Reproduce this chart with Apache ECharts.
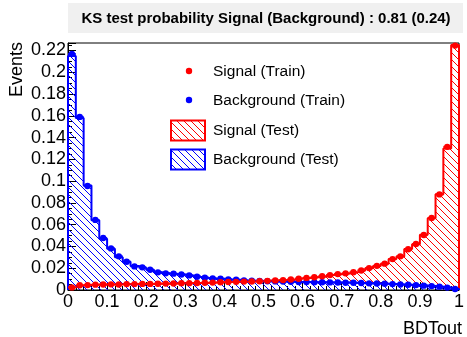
<!DOCTYPE html>
<html>
<head>
<meta charset="utf-8">
<script src="https://cdn.jsdelivr.net/npm/echarts@6/dist/echarts.min.js"></script>
<style>
html,body{margin:0;padding:0;background:#fff;}
#chart{width:467px;height:337px;}
</style>
</head>
<body>
<div id="chart"></div>
<script>
// ---- data (50 bins over BDTout 0..1) ----
const xMin = 0, xMax = 1, nBins = 50;
const yTicks = [0, 0.02, 0.04, 0.06, 0.08, 0.1, 0.12, 0.14, 0.16, 0.18, 0.2, 0.22];
const xTicks = [0, 0.1, 0.2, 0.3, 0.4, 0.5, 0.6, 0.7, 0.8, 0.9, 1];

const sigTest = [
  0.0025, 0.0042, 0.0046, 0.0048, 0.0050, 0.0051, 0.0052, 0.0053, 0.0054, 0.0055,
  0.0056, 0.0057, 0.0058, 0.0060, 0.0061, 0.0063, 0.0064, 0.0065, 0.0068, 0.0072,
  0.0073, 0.0075, 0.0076, 0.0078, 0.0080, 0.0085, 0.0087, 0.0090, 0.0095, 0.0105,
  0.0110, 0.0118, 0.0125, 0.0138, 0.0145, 0.0152, 0.0162, 0.0180, 0.0200, 0.0220,
  0.0240, 0.0285, 0.0307, 0.0377, 0.0420, 0.0507, 0.0660, 0.0880, 0.1300, 0.2250
];
const bgTest = [
  0.2150, 0.1580, 0.0960, 0.0640, 0.0470, 0.0380, 0.0300, 0.0260, 0.0220, 0.0205,
  0.0185, 0.0163, 0.0153, 0.0148, 0.0142, 0.0134, 0.0122, 0.0113, 0.0106, 0.0103,
  0.0097, 0.0094, 0.0088, 0.0085, 0.0083, 0.0081, 0.0079, 0.0077, 0.0075, 0.0074,
  0.0073, 0.0072, 0.0071, 0.0070, 0.0069, 0.0068, 0.0066, 0.0064, 0.0062, 0.0060,
  0.0057, 0.0054, 0.0051, 0.0048, 0.0045, 0.0041, 0.0036, 0.0030, 0.0022, 0.0010
];
const sigTrain = [
  0.0024, 0.0043, 0.0045, 0.0049, 0.0050, 0.0052, 0.0051, 0.0054, 0.0054, 0.0056,
  0.0056, 0.0058, 0.0059, 0.0060, 0.0062, 0.0063, 0.0064, 0.0066, 0.0068, 0.0071,
  0.0074, 0.0075, 0.0077, 0.0078, 0.0081, 0.0084, 0.0088, 0.0091, 0.0096, 0.0104,
  0.0111, 0.0117, 0.0126, 0.0137, 0.0146, 0.0153, 0.0163, 0.0179, 0.0201, 0.0222,
  0.0242, 0.0284, 0.0309, 0.0375, 0.0422, 0.0505, 0.0662, 0.0878, 0.1315, 0.2245
];
const bgTrain = [
  0.2168, 0.1590, 0.0956, 0.0644, 0.0477, 0.0382, 0.0309, 0.0260, 0.0217, 0.0208,
  0.0186, 0.0162, 0.0153, 0.0150, 0.0143, 0.0134, 0.0122, 0.0113, 0.0106, 0.0103,
  0.0097, 0.0094, 0.0088, 0.0085, 0.0084, 0.0080, 0.0079, 0.0078, 0.0075, 0.0074,
  0.0073, 0.0071, 0.0071, 0.0070, 0.0069, 0.0067, 0.0066, 0.0064, 0.0061, 0.0060,
  0.0058, 0.0054, 0.0050, 0.0048, 0.0045, 0.0040, 0.0036, 0.0031, 0.0022, 0.0009
];
const titleText = 'KS test probability Signal (Background) : 0.81 (0.24)';

// ---- helpers ----
const binW = (xMax - xMin) / nBins;
function stepData(vals) {
  const d = [[xMin, 0]];
  vals.forEach((v, i) => d.push([xMin + i * binW, v]));
  d.push([xMax, vals[vals.length - 1]]);
  d.push([xMax, 0]);
  return d;
}
function pointData(vals) {
  return vals.map((v, i) => [xMin + (i + 0.5) * binW, v]);
}
function hatch(color) {
  const s = 7;
  const c = document.createElement('canvas');
  c.width = s; c.height = s;
  const g = c.getContext('2d');
  g.fillStyle = color;
  for (let i = 0; i < s; i++) g.fillRect(i, i, 1, 1);
  return { image: c, repeat: 'repeat' };
}
const RED = '#ff0000', BLUE = '#0000ff';
const FONT = '"Liberation Sans", Arial, Helvetica, sans-serif';

function pointsRender(color) {
  return function (params, api) {
    const x = api.value(0), y = api.value(1);
    const l = api.coord([x - binW / 2, y]);
    const r = api.coord([x + binW / 2, y]);
    const c = api.coord([x, y]);
    return {
      type: 'group',
      children: [
        { type: 'line', shape: { x1: l[0], y1: l[1], x2: r[0], y2: r[1] }, style: { stroke: color, lineWidth: 2 } },
        { type: 'circle', shape: { cx: c[0], cy: c[1], r: 3.2 }, style: { fill: color } }
      ]
    };
  };
}

const chart = echarts.init(document.getElementById('chart'), null, { renderer: 'canvas' });
chart.setOption({
  animation: false,
  backgroundColor: '#ffffff',
  grid: { left: 68, right: 5, top: 43, bottom: 47, show: true, borderColor: '#000', borderWidth: 1, backgroundColor: 'transparent' },
  xAxis: {
    type: 'value', min: xMin, max: xMax, interval: 0.1,
    axisLine: { show: true, onZero: false, lineStyle: { color: '#000', width: 1 } },
    axisTick: { show: true, inside: true, length: 8, lineStyle: { color: '#000' } },
    minorTick: { show: true, splitNumber: 5, length: 4, lineStyle: { color: '#000' } },
    splitLine: { show: false },
    axisLabel: { color: '#000', fontSize: 18, fontFamily: FONT, margin: 3,
      formatter: v => (xTicks.some(t => Math.abs(t - v) < 1e-9) ? String(+v.toFixed(2)) : '') }
  },
  yAxis: {
    type: 'value', min: 0, max: 0.2269, interval: 0.02,
    axisLine: { show: true, lineStyle: { color: '#000', width: 1 } },
    axisTick: { show: true, inside: true, length: 8, lineStyle: { color: '#000' } },
    minorTick: { show: true, splitNumber: 4, length: 4, lineStyle: { color: '#000' } },
    splitLine: { show: false },
    axisLabel: { color: '#000', fontSize: 18, fontFamily: FONT, margin: 2, showMaxLabel: false,
      formatter: v => (yTicks.some(t => Math.abs(t - v) < 1e-9) ? String(+v.toFixed(2)) : '') }
  },
  series: [
    { type: 'line', step: 'end', data: stepData(sigTest), symbol: 'none', clip: false,
      lineStyle: { color: RED, width: 2 }, areaStyle: { color: hatch(RED), opacity: 1 }, z: 2 },
    { type: 'line', step: 'end', data: stepData(bgTest), symbol: 'none', clip: false,
      lineStyle: { color: BLUE, width: 2 }, areaStyle: { color: hatch(BLUE), opacity: 1 }, z: 3 },
    { type: 'custom', data: pointData(bgTrain), renderItem: pointsRender(BLUE), z: 4 },
    { type: 'custom', data: pointData(sigTrain), renderItem: pointsRender(RED), z: 5 }
  ],
  graphic: [
    { type: 'rect', left: 68, top: 3, shape: { width: 395, height: 30 }, style: { fill: '#f0f0f0' }, z: 0 },
    { type: 'text', x: 266, y: 19, style: { text: titleText, fill: '#000', font: 'bold 15px ' + FONT, align: 'center', verticalAlign: 'middle' } },
    { type: 'text', x: 17, y: 42, rotation: Math.PI / 2, style: { text: 'Events', fill: '#000', font: '18px ' + FONT, align: 'right', verticalAlign: 'middle' } },
    { type: 'text', x: 462, y: 329, style: { text: 'BDTout', fill: '#000', font: '18px ' + FONT, align: 'right', verticalAlign: 'middle' } },
    // legend
    { type: 'circle', shape: { cx: 189, cy: 71, r: 3.2 }, style: { fill: RED } },
    { type: 'text', x: 213, y: 72, style: { text: 'Signal (Train)', fill: '#000', font: '15.5px ' + FONT, verticalAlign: 'middle' } },
    { type: 'circle', shape: { cx: 189, cy: 100, r: 3.2 }, style: { fill: BLUE } },
    { type: 'text', x: 213, y: 101, style: { text: 'Background (Train)', fill: '#000', font: '15.5px ' + FONT, verticalAlign: 'middle' } },
    { type: 'rect', shape: { x: 171, y: 120.5, width: 34, height: 20 }, style: { fill: hatch(RED), stroke: RED, lineWidth: 2 } },
    { type: 'text', x: 213, y: 131, style: { text: 'Signal (Test)', fill: '#000', font: '15.5px ' + FONT, verticalAlign: 'middle' } },
    { type: 'rect', shape: { x: 171, y: 149.5, width: 34, height: 20 }, style: { fill: hatch(BLUE), stroke: BLUE, lineWidth: 2 } },
    { type: 'text', x: 213, y: 160, style: { text: 'Background (Test)', fill: '#000', font: '15.5px ' + FONT, verticalAlign: 'middle' } }
  ]
});
</script>
</body>
</html>
